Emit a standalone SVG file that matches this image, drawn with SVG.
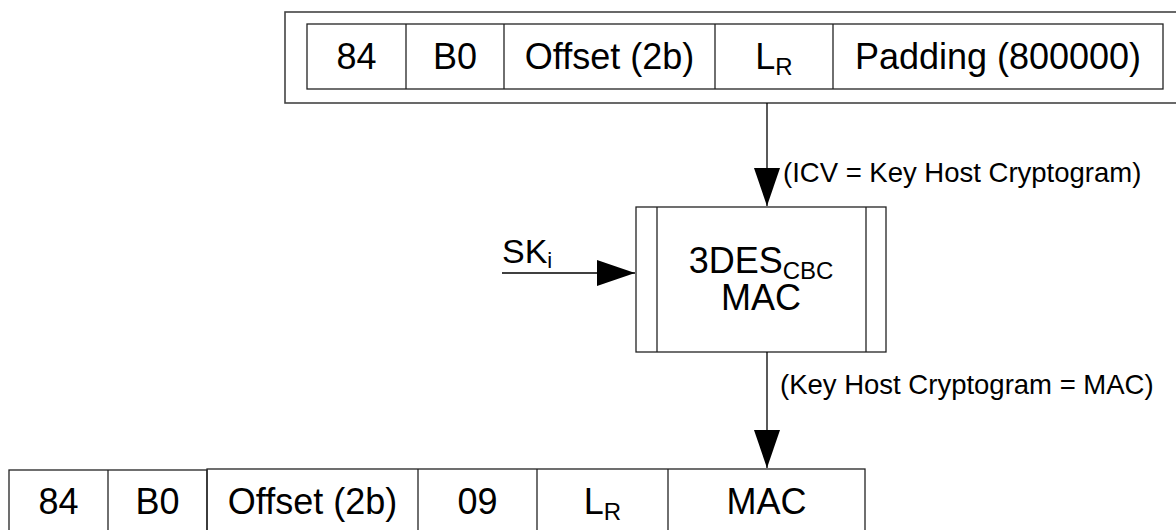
<svg xmlns="http://www.w3.org/2000/svg" width="1176" height="530" viewBox="0 0 1176 530">
<style>
.bx{fill:none;stroke:#222;stroke-width:1.3}
.ob{fill:none;stroke:#444;stroke-width:1.6}
.t{font-family:"Liberation Sans",Arial,sans-serif;font-size:36px;fill:#000;text-anchor:middle}
.l{font-family:"Liberation Sans",Arial,sans-serif;font-size:27.5px;fill:#000}
.ln{fill:none;stroke:#000;stroke-width:1.3}
</style>
<defs>
<marker id="ah" markerUnits="userSpaceOnUse" markerWidth="38" markerHeight="26" refX="38" refY="13" orient="auto">
<path d="M0,0 L38,13 L0,26 Z" fill="#000"/>
</marker>
</defs>
<g id="cmd-top">
<rect class="ob" x="285" y="12" width="895" height="91"/>
<rect class="bx" x="307" y="24" width="856" height="65"/>
<line class="bx" x1="406" y1="24" x2="406" y2="89"/>
<line class="bx" x1="504" y1="24" x2="504" y2="89"/>
<line class="bx" x1="715" y1="24" x2="715" y2="89"/>
<line class="bx" x1="833" y1="24" x2="833" y2="89"/>
<text class="t" x="356.5" y="69">84</text>
<text class="t" x="455" y="69">B0</text>
<text class="t" x="609.5" y="69">Offset (2b)</text>
<text class="t" x="774" y="69">L<tspan font-size="24" dy="6">R</tspan></text>
<text class="t" x="998" y="69">Padding (800000)</text>
</g>
<g id="mac-block">
<rect class="bx" x="636" y="207" width="250" height="145"/>
<line class="bx" x1="657" y1="207" x2="657" y2="352"/>
<line class="bx" x1="866" y1="207" x2="866" y2="352"/>
<text class="t" x="761" y="273">3DES<tspan font-size="24" dy="6">CBC</tspan></text>
<text class="t" x="761" y="310">MAC</text>
</g>
<g id="ski">
<text x="502" y="263" style="font-family:'Liberation Sans',Arial,sans-serif;font-size:34px;fill:#000">SK<tspan style="font-size:22px" dy="5">i</tspan></text>
</g>
<g id="cmd-bottom">
<rect class="bx" x="9" y="470" width="198" height="70"/>
<line class="bx" x1="108" y1="470" x2="108" y2="540"/>
<rect class="bx" x="207" y="469" width="658" height="71"/>
<line class="bx" x1="418" y1="469" x2="418" y2="540"/>
<line class="bx" x1="537" y1="469" x2="537" y2="540"/>
<line class="bx" x1="668" y1="469" x2="668" y2="540"/>
<text class="t" x="58.5" y="514">84</text>
<text class="t" x="157.5" y="514">B0</text>
<text class="t" x="312.5" y="514">Offset (2b)</text>
<text class="t" x="477.5" y="514">09</text>
<text class="t" x="602.5" y="514">L<tspan font-size="24" dy="6">R</tspan></text>
<text class="t" x="766.5" y="514">MAC</text>
</g>
<g id="connectors">
<line class="ln" x1="767" y1="103" x2="767" y2="206" marker-end="url(#ah)"/>
<line class="ln" x1="502" y1="273" x2="635" y2="273" marker-end="url(#ah)"/>
<line class="ln" x1="767" y1="352" x2="767" y2="468" marker-end="url(#ah)"/>
<text class="l" x="783" y="182">(ICV = Key Host Cryptogram)</text>
<text class="l" x="780" y="394">(Key Host Cryptogram = MAC)</text>
</g>
</svg>
